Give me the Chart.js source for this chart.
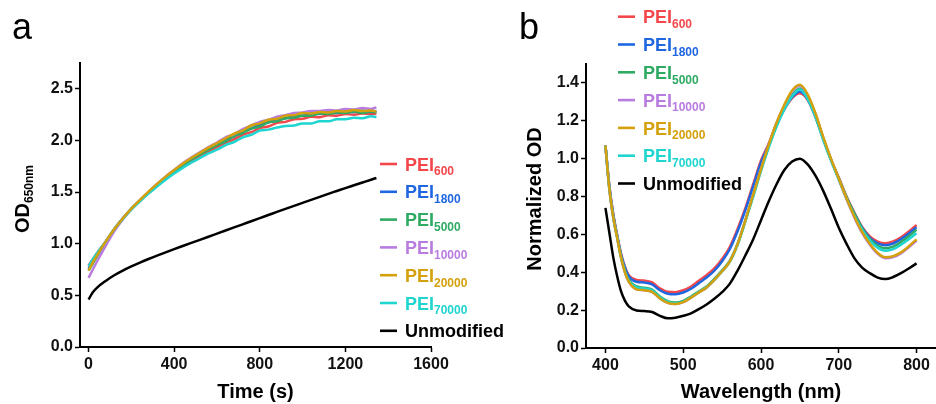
<!DOCTYPE html>
<html><head><meta charset="utf-8">
<script src="https://cdn.jsdelivr.net/npm/chart.js@4.4.1/dist/chart.umd.min.js"></script>
<style>
html,body{margin:0;padding:0;background:#fff;}
#wrap{position:relative;width:936px;height:404px;overflow:hidden;background:#fff;}
canvas{position:absolute;left:0;top:0;}
</style></head><body>
<div id="wrap"><canvas id="ca" width="936" height="404"></canvas><canvas id="cb" width="936" height="404"></canvas></div>
<script>
// ---------- data ----------
const legendMain = ["PEI","PEI","PEI","PEI","PEI","PEI","Unmodified"];
const legendSub  = ["600","1800","5000","10000","20000","70000",""];
const seriesColors = ["#f4474b","#1f67e0","#2eaa63","#b87ce0","#d4a00b","#1ed5d0","#000000"];

// panel a: OD650nm vs time (s)
const timeS = [0,20,40,80,120,160,200,240,280,320,360,400,440,480,520,560,600,640,680,720,760,800,840,880,920,960,1000,1040,1080,1120,1160,1200,1240,1280,1320,1345];
const odPEI600   = [0.79,0.85,0.91,1.02,1.14,1.245,1.335,1.415,1.49,1.565,1.63,1.695,1.75,1.80,1.85,1.895,1.935,1.98,2.01,2.055,2.08,2.12,2.135,2.17,2.18,2.205,2.21,2.23,2.225,2.245,2.24,2.255,2.25,2.26,2.255,2.26];
const odPEI1800  = [0.76,0.83,0.90,1.02,1.14,1.245,1.34,1.42,1.50,1.575,1.645,1.71,1.77,1.825,1.875,1.92,1.965,2.01,2.04,2.09,2.115,2.155,2.175,2.205,2.215,2.24,2.24,2.26,2.255,2.275,2.265,2.28,2.275,2.29,2.275,2.285];
const odPEI5000  = [0.74,0.81,0.88,1.01,1.14,1.245,1.34,1.42,1.495,1.57,1.64,1.70,1.76,1.815,1.865,1.91,1.955,1.99,2.04,2.07,2.115,2.135,2.175,2.185,2.215,2.22,2.24,2.24,2.26,2.255,2.27,2.265,2.28,2.265,2.28,2.27];
const odPEI10000 = [0.67,0.75,0.83,0.98,1.12,1.235,1.335,1.42,1.50,1.58,1.65,1.715,1.78,1.835,1.885,1.935,1.98,2.03,2.06,2.11,2.145,2.18,2.20,2.23,2.245,2.265,2.27,2.285,2.285,2.295,2.29,2.305,2.30,2.315,2.305,2.32];
const odPEI20000 = [0.74,0.82,0.89,1.02,1.14,1.245,1.34,1.425,1.505,1.58,1.65,1.715,1.775,1.83,1.88,1.93,1.975,2.02,2.065,2.095,2.145,2.165,2.20,2.21,2.24,2.245,2.265,2.26,2.275,2.27,2.285,2.28,2.295,2.285,2.29,2.28];
const odPEI70000 = [0.78,0.85,0.91,1.02,1.14,1.24,1.33,1.41,1.485,1.555,1.62,1.68,1.735,1.785,1.83,1.875,1.91,1.955,1.985,2.03,2.055,2.095,2.105,2.125,2.14,2.145,2.165,2.165,2.185,2.185,2.205,2.205,2.22,2.215,2.235,2.225];
const odUnmod    = [0.46,0.53,0.575,0.64,0.695,0.74,0.78,0.817,0.852,0.885,0.917,0.948,0.978,1.008,1.038,1.068,1.098,1.128,1.158,1.188,1.218,1.248,1.278,1.308,1.338,1.367,1.396,1.425,1.454,1.483,1.511,1.539,1.566,1.593,1.62,1.637];
const timeTicks = [0,400,800,1200,1600];
const timeTickLabels = ["0","400","800","1200","1600"];
const odTicks = [0,0.5,1,1.5,2,2.5];
const odTickLabels = ["0.0","0.5","1.0","1.5","2.0","2.5"];

// panel b: normalized OD vs wavelength (nm)
const wavelengthNm = [400,405,410,415,420,425,430,440,450,460,470,480,490,500,510,520,530,540,550,560,570,580,590,600,610,620,630,640,650,660,670,680,690,700,710,720,730,740,750,760,770,780,790,800];
const nPEI600   = [1.07,0.86,0.71,0.60,0.50,0.43,0.385,0.36,0.356,0.346,0.315,0.297,0.295,0.305,0.325,0.355,0.385,0.42,0.47,0.535,0.63,0.74,0.865,0.99,1.08,1.18,1.26,1.32,1.345,1.31,1.22,1.105,0.995,0.90,0.80,0.715,0.64,0.59,0.562,0.553,0.563,0.585,0.615,0.65];
const nPEI1800  = [1.07,0.855,0.705,0.595,0.495,0.425,0.378,0.35,0.346,0.336,0.305,0.287,0.284,0.293,0.313,0.342,0.372,0.408,0.458,0.523,0.618,0.73,0.855,0.98,1.075,1.18,1.265,1.325,1.355,1.315,1.225,1.105,0.995,0.895,0.795,0.71,0.635,0.582,0.553,0.543,0.552,0.575,0.605,0.638];
const nPEI5000  = [1.07,0.845,0.695,0.588,0.485,0.41,0.36,0.325,0.318,0.308,0.272,0.247,0.24,0.249,0.272,0.298,0.325,0.365,0.41,0.462,0.552,0.675,0.805,0.94,1.065,1.175,1.265,1.335,1.37,1.325,1.225,1.105,0.995,0.895,0.795,0.71,0.632,0.575,0.54,0.527,0.535,0.56,0.59,0.625];
const nPEI10000 = [1.07,0.84,0.69,0.583,0.478,0.40,0.35,0.31,0.305,0.297,0.262,0.238,0.232,0.242,0.266,0.293,0.32,0.36,0.405,0.458,0.55,0.675,0.81,0.945,1.075,1.19,1.28,1.355,1.385,1.335,1.235,1.11,0.995,0.89,0.785,0.69,0.608,0.545,0.497,0.474,0.48,0.50,0.532,0.568];
const nPEI20000 = [1.07,0.84,0.69,0.583,0.478,0.40,0.35,0.31,0.305,0.297,0.262,0.238,0.232,0.242,0.266,0.293,0.32,0.36,0.405,0.458,0.55,0.675,0.81,0.945,1.075,1.19,1.285,1.36,1.39,1.34,1.24,1.115,1.00,0.895,0.79,0.695,0.613,0.55,0.502,0.479,0.485,0.505,0.537,0.574];
const nPEI70000 = [1.07,0.84,0.69,0.585,0.48,0.405,0.355,0.32,0.314,0.304,0.268,0.243,0.236,0.245,0.268,0.295,0.32,0.36,0.405,0.456,0.545,0.67,0.80,0.935,1.06,1.17,1.26,1.33,1.365,1.315,1.22,1.10,0.99,0.89,0.79,0.70,0.625,0.568,0.53,0.514,0.522,0.545,0.575,0.606];
const nUnmod    = [0.74,0.61,0.48,0.38,0.30,0.25,0.22,0.198,0.195,0.19,0.17,0.157,0.16,0.17,0.183,0.205,0.23,0.26,0.295,0.34,0.41,0.49,0.575,0.675,0.775,0.865,0.94,0.985,1.0,0.97,0.91,0.83,0.735,0.635,0.55,0.475,0.425,0.395,0.372,0.364,0.375,0.395,0.42,0.447];
const wlTicks = [400,500,600,700,800];
const wlTickLabels = ["400","500","600","700","800"];
const normTicks = [0,0.2,0.4,0.6,0.8,1.0,1.2,1.4];
const normTickLabels = ["0.0","0.2","0.4","0.6","0.8","1.0","1.2","1.4"];

// ---------- helpers ----------
const FONT = "'Liberation Sans', Arial, Helvetica, sans-serif";
const drawOrder = [5,4,3,2,0,1,6]; // lower = drawn on top

function makeDatasets(xs, seriesList) {
  return seriesList.map((ys, i) => ({
    label: legendMain[i] + legendSub[i],
    data: xs.map((x, k) => ({x: x, y: ys[k]})),
    borderColor: seriesColors[i],
    backgroundColor: seriesColors[i],
    borderWidth: 2.5,
    pointRadius: 0,
    fill: false,
    cubicInterpolationMode: 'monotone',
    order: drawOrder[i]
  }));
}

function axis(min, max, ticks, labels, isX, fit) {
  return {
    type: 'linear', min: min, max: max,
    afterBuildTicks: s => { s.ticks = ticks.map(v => ({value: v})); },
    afterFit: s => { if (isX) s.height = fit; else s.width = fit; },
    ticks: {
      autoSkip: false, maxRotation: 0, padding: isX ? 3 : 2, color: '#111',
      font: {family: FONT, size: 16, weight: 'bold'},
      callback: (v, i) => labels[i]
    },
    grid: {display: true, drawOnChartArea: false, drawTicks: true, tickLength: 5, tickWidth: 1.5, tickColor: '#000'},
    border: {display: true, color: '#000', width: 2},
    title: {display: false}
  };
}

function richText(ctx, x, y, main, sub, mainSize, subSize, drop, color) {
  ctx.fillStyle = color;
  ctx.font = 'bold ' + mainSize + 'px ' + FONT;
  ctx.fillText(main, x, y);
  if (sub) {
    const w = ctx.measureText(main).width;
    ctx.font = 'bold ' + subSize + 'px ' + FONT;
    ctx.fillText(sub, x + w, y + drop);
  }
}

function textPlugin(cfg) {
  return {
    id: 'txt' + cfg.letter,
    afterDraw(chart) {
      const ctx = chart.ctx, ca = chart.chartArea;
      ctx.save();
      ctx.textBaseline = 'alphabetic';
      ctx.fillStyle = '#000';
      ctx.textAlign = 'left';
      ctx.font = '36px ' + FONT;
      ctx.fillText(cfg.letter, cfg.letterX, 39);
      ctx.textAlign = 'center';
      ctx.font = 'bold 20px ' + FONT;
      ctx.fillText(cfg.xTitle, (ca.left + ca.right) / 2, 398);
      ctx.save();
      ctx.translate(cfg.yTitleX, cfg.yTitleY);
      ctx.rotate(-Math.PI / 2);
      if (cfg.yTitleSub) {
        ctx.textAlign = 'left';
        richText(ctx, 0, 0, cfg.yTitle, cfg.yTitleSub, 20, 12, 4, '#000');
      } else {
        ctx.textAlign = 'center';
        ctx.font = 'bold 20px ' + FONT;
        ctx.fillText(cfg.yTitle, 0, 0);
      }
      ctx.restore();
      ctx.textAlign = 'left';
      for (let i = 0; i < legendMain.length; i++) {
        const ly = cfg.legY + i * 27.8;
        ctx.strokeStyle = seriesColors[i];
        ctx.lineWidth = 2.6;
        ctx.beginPath();
        ctx.moveTo(cfg.legX, ly);
        ctx.lineTo(cfg.legX + 17, ly);
        ctx.stroke();
        richText(ctx, cfg.legX + 25, ly + 6.6, legendMain[i], legendSub[i], 18, 12, 4.7, seriesColors[i]);
      }
      ctx.restore();
    }
  };
}

Chart.defaults.font.family = FONT;

new Chart(document.getElementById('ca'), {
  type: 'line',
  data: {datasets: makeDatasets(timeS, [odPEI600, odPEI1800, odPEI5000, odPEI10000, odPEI20000, odPEI70000, odUnmod])},
  options: {
    responsive: false, animation: false, devicePixelRatio: 1,
    layout: {padding: {left: 0, top: 63, right: 505, bottom: 0}},
    plugins: {legend: {display: false}, tooltip: {enabled: false}},
    scales: {
      x: axis(-40, 1600, timeTicks, timeTickLabels, true, 57),
      y: axis(0, 2.75, odTicks, odTickLabels, false, 80)
    }
  },
  plugins: [textPlugin({letter: 'a', letterX: 12, xTitle: 'Time (s)', yTitle: 'OD', yTitleSub: '650nm', yTitleX: 29, yTitleY: 233, legX: 380, legY: 164})]
});

new Chart(document.getElementById('cb'), {
  type: 'line',
  data: {datasets: makeDatasets(wavelengthNm, [nPEI600, nPEI1800, nPEI5000, nPEI10000, nPEI20000, nPEI70000, nUnmod])},
  options: {
    responsive: false, animation: false, devicePixelRatio: 1,
    layout: {padding: {left: 0, top: 64, right: 0, bottom: 0}},
    plugins: {legend: {display: false}, tooltip: {enabled: false}},
    scales: {
      x: axis(375, 825, wlTicks, wlTickLabels, true, 56),
      y: axis(0, 1.5, normTicks, normTickLabels, false, 586)
    }
  },
  plugins: [textPlugin({letter: 'b', letterX: 519, xTitle: 'Wavelength (nm)', yTitle: 'Normalized OD', yTitleSub: '', yTitleX: 541, yTitleY: 199, legX: 618, legY: 16.7})]
});
</script>
</body></html>
